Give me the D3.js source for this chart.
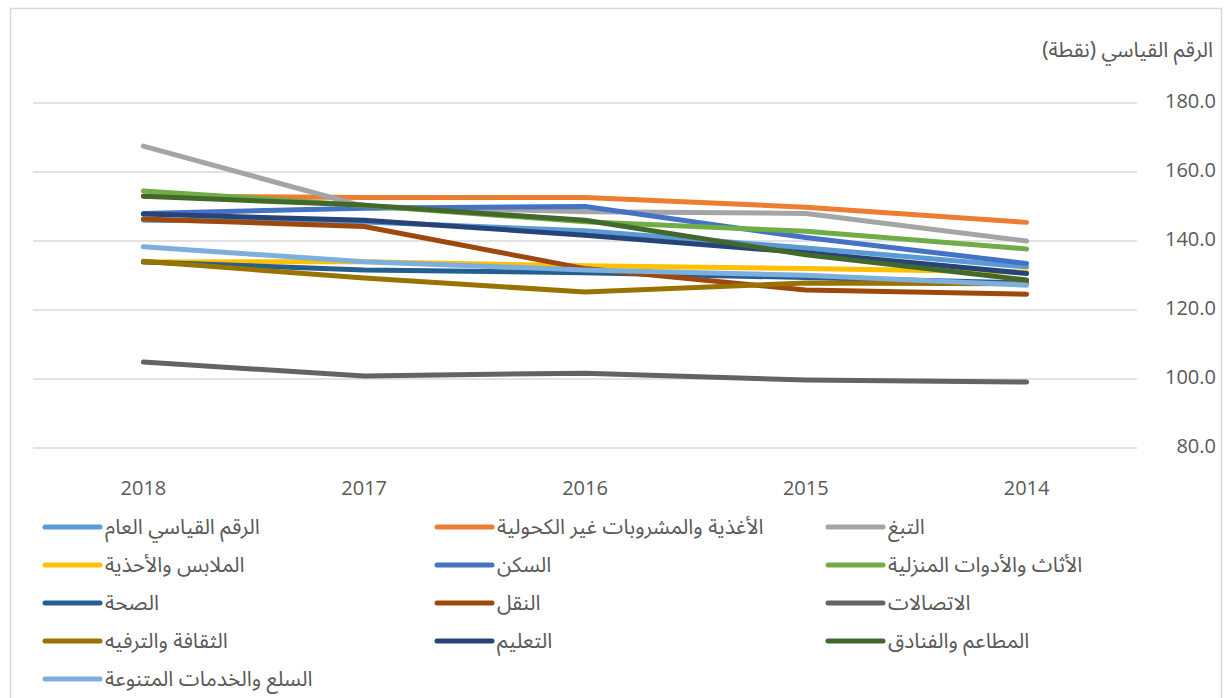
<!DOCTYPE html>
<html>
<head>
<meta charset="utf-8">
<script src="https://cdn.jsdelivr.net/npm/d3@7"></script>
<style>
  body { margin: 0; background: #fff; }
  #chart { width: 1224px; height: 698px; }
</style>
</head>
<body>
<div id="chart"></div>
<script>
// years, shown newest first (left to right)
const years = ["2018", "2017", "2016", "2015", "2014"];
const yTicks = [80, 100, 120, 140, 160, 180];
const yTitle = "الرقم القياسي (نقطة)";

const seriesNames = [
  "الرقم القياسي العام",
  "الأغذية والمشروبات غير الكحولية",
  "التبغ",
  "الملابس والأحذية",
  "السكن",
  "الأثاث والأدوات المنزلية",
  "الصحة",
  "النقل",
  "الاتصالات",
  "الثقافة والترفيه",
  "التعليم",
  "المطاعم والفنادق",
  "السلع والخدمات المتنوعة"
];
const seriesColors = ["#5B9BD5", "#ED7D31", "#A5A5A5", "#FFC000", "#4472C4", "#70AD47",
  "#255E91", "#9E480E", "#636363", "#997300", "#264478", "#43682B", "#7CAFDD"];

// values per series, same order as years
const general     = [146.0, 145.5, 143.0, 138.0, 132.5];
const food        = [153.0, 152.6, 152.6, 149.8, 145.4];
const tobacco     = [167.5, 150.0, 148.5, 148.0, 140.0];
const clothing    = [133.9, 134.0, 132.8, 132.0, 131.0];
const housing     = [148.0, 149.5, 150.0, 141.0, 133.5];
const furnishing  = [154.5, 150.3, 145.6, 142.8, 137.7];
const health      = [133.9, 131.6, 130.8, 129.4, 127.8];
const transport   = [146.4, 144.2, 132.0, 125.8, 124.6];
const telecom     = [104.9, 100.9, 101.7, 99.7, 99.1];
const culture     = [134.1, 129.3, 125.2, 127.8, 127.6];
const education   = [147.8, 146.0, 141.7, 136.6, 130.6];
const restaurants = [153.0, 150.4, 146.0, 136.0, 128.7];
const misc        = [138.3, 134.0, 131.6, 130.1, 127.2];

const allValues = [general, food, tobacco, clothing, housing, furnishing,
  health, transport, telecom, culture, education, restaurants, misc];

const width = 1224, height = 698;
const numFont = '"Open Sans", Lato, sans-serif';
const arFont = '"Noto Sans Arabic", "DejaVu Sans", sans-serif';

const svg = d3.select('#chart').append('svg')
  .attr('width', width)
  .attr('height', height);

// outer frame
svg.append('rect')
  .attr('x', 10.5).attr('y', 8.5)
  .attr('width', 1211).attr('height', 700)
  .attr('fill', 'none')
  .attr('stroke', '#D9D9D9')
  .attr('stroke-width', 1.5);

const plotLeft = 33, plotRight = 1137;
const x = d3.scalePoint()
  .domain(years)
  .range([plotLeft, plotRight])
  .padding(0.5);

const y = d3.scaleLinear()
  .domain([80, 180])
  .range([448, 103]);

// grid
svg.append('g').selectAll('line')
  .data(yTicks)
  .join('line')
  .attr('x1', plotLeft).attr('x2', plotRight)
  .attr('y1', d => y(d)).attr('y2', d => y(d))
  .attr('stroke', '#D9D9D9')
  .attr('stroke-width', 1.5);

// y tick labels (right side)
svg.append('g').selectAll('text')
  .data(yTicks)
  .join('text')
  .attr('x', 1216)
  .attr('y', d => y(d) + 5)
  .attr('text-anchor', 'end')
  .attr('font-family', numFont)
  .attr('font-size', 20)
  .attr('fill', '#595959')
  .text(d => d.toFixed(1));

// x tick labels
svg.append('g').selectAll('text')
  .data(years)
  .join('text')
  .attr('x', d => x(d))
  .attr('y', 495)
  .attr('text-anchor', 'middle')
  .attr('font-family', numFont)
  .attr('font-size', 20)
  .attr('fill', '#595959')
  .text(d => d);

// y axis title
svg.append('text')
  .attr('x', 1213)
  .attr('y', 57)
  .attr('text-anchor', 'end')
  .attr('font-family', arFont)
  .attr('font-size', 21)
  .attr('fill', '#595959')
  .text(yTitle);

// lines
const line = d3.line()
  .x((d, i) => x(years[i]))
  .y(d => y(d));

svg.append('g').selectAll('path')
  .data(allValues)
  .join('path')
  .attr('d', d => line(d))
  .attr('fill', 'none')
  .attr('stroke', (d, i) => seriesColors[i])
  .attr('stroke-width', 5)
  .attr('stroke-linecap', 'round')
  .attr('stroke-linejoin', 'round');

// legend, 3 columns
const colX = [45, 437, 828];
const legend = svg.append('g').selectAll('g')
  .data(seriesNames)
  .join('g')
  .attr('transform', (d, i) => 'translate(' + colX[i % 3] + ',' + (527 + Math.floor(i / 3) * 38) + ')');

legend.append('line')
  .attr('x1', 0).attr('x2', 55)
  .attr('y1', 0).attr('y2', 0)
  .attr('stroke', (d, i) => seriesColors[i])
  .attr('stroke-width', 5)
  .attr('stroke-linecap', 'round');

legend.append('text')
  .attr('x', 60)
  .attr('y', 7)
  .attr('font-family', arFont)
  .attr('font-size', 21)
  .attr('fill', '#595959')
  .text(d => d);
</script>
</body>
</html>
